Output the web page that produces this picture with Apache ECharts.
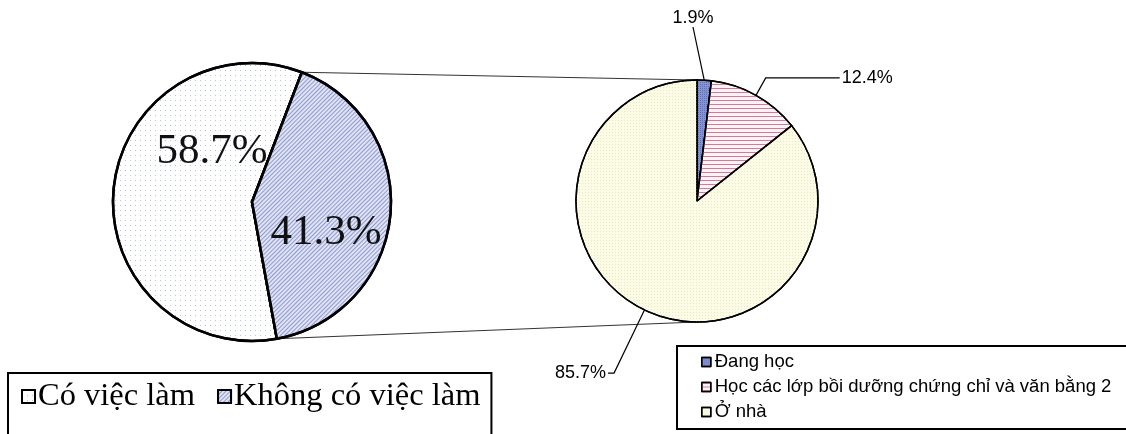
<!DOCTYPE html>
<html>
<head>
<meta charset="utf-8">
<script src="https://cdn.jsdelivr.net/npm/echarts@6/dist/echarts.min.js"></script>
<style>
html,body{margin:0;padding:0;background:#fff;}
#chart{width:1126px;height:434px;}
</style>
</head>
<body>
<div id="chart"></div>
<script>
// ---- data ----
const mainCategories = ['Có việc làm', 'Không có việc làm'];
const mainValues = [58.7, 41.3];
const subCategories = ['Đang học', 'Học các lớp bồi dưỡng chứng chỉ và văn bằng 2', 'Ở nhà'];
const subValues = [1.9, 12.4, 85.7];

// ---- layout ----
const L = { cx: 252, cy: 202, r: 139, start: -79.7 };
const R = { cx: 697, cy: 201, r: 121, start: 90 };

const serif = '"Liberation Serif", "Times New Roman", serif';
const sans = '"Liberation Sans", Arial, sans-serif';

const mainStyles = [
  { color: '#ffffff', decal: { symbol: 'rect', symbolSize: 1, dashArrayX: [1, 4], dashArrayY: [1, 4], color: '#b8c0ea' } },
  { color: '#e0e3f3', decal: { symbol: 'rect', symbolSize: 1, dashArrayX: [1, 0], dashArrayY: [1, 2], rotation: -Math.PI / 4, color: '#8f9ad0' } }
];
const subStyles = [
  { color: '#8393d4', decal: { symbol: 'rect', symbolSize: 1, dashArrayX: [1, 1], dashArrayY: [1, 1], color: '#6070bb' } },
  { color: '#fdf3f6', decal: { symbol: 'rect', symbolSize: 1, dashArrayX: [1, 0], dashArrayY: [1, 3], color: '#d47a98' } },
  { color: '#fbfbe6', decal: { symbol: 'rect', symbolSize: 1, dashArrayX: [1, 2], dashArrayY: [1, 2], color: '#eaeac4' } }
];

const mainLabelPos = [[212, 152], [326, 233]];
const subLabelLines = [
  { length: 0, length2: 0 },
  { length: 20, length2: 74 },
  { length: 70, length2: 6 }
];

function sum(a) { return a.reduce((s, v) => s + v, 0); }
function pt(c, deg) {
  const a = deg * Math.PI / 180;
  return [c.cx + c.r * Math.cos(a), c.cy - c.r * Math.sin(a)];
}
// boundaries of the "Không có việc làm" slice (clockwise from start)
const mainTotal = sum(mainValues);
const bStart = L.start;
const bEnd = L.start - 360 * mainValues[0] / mainTotal;
const pTop = pt(L, bEnd);
const pBot = pt(L, bStart);
const rTop = [R.cx, R.cy - R.r];
const rBot = [R.cx, R.cy + R.r];

const chart = echarts.init(document.getElementById('chart'), null, { renderer: 'canvas' });
chart.setOption({
  animation: false,
  backgroundColor: '#ffffff',
  legend: [
    {
      data: mainCategories,
      left: 8, top: 373,
      orient: 'horizontal',
      icon: 'rect',
      itemWidth: 13, itemHeight: 13,
      itemGap: 22,
      padding: [7, 11, 40, 13],
      borderColor: '#000', borderWidth: 2,
      itemStyle: { borderColor: '#000', borderWidth: 2 },
      textStyle: { fontFamily: serif, fontSize: 32.5, color: '#000', padding: [0, 0, 0, -2] },
      selectedMode: false
    },
    {
      data: subCategories,
      left: 677, top: 346,
      orient: 'vertical',
      icon: 'rect',
      itemWidth: 9, itemHeight: 9,
      itemGap: 5,
      padding: [6, 80, 7, 24],
      borderColor: '#000', borderWidth: 2,
      itemStyle: { borderColor: '#000', borderWidth: 1.5 },
      textStyle: { fontFamily: sans, fontSize: 18.5, color: '#000', lineHeight: 20, padding: [0, 0, 0, -1] },
      selectedMode: false
    }
  ],
  series: [
    {
      type: 'pie',
      center: [L.cx, L.cy],
      radius: L.r,
      startAngle: L.start,
      clockwise: true,
      avoidLabelOverlap: false,
      itemStyle: { borderColor: '#000', borderWidth: 2.5 },
      label: {
        show: true, position: 'inside',
        formatter: p => p.value.toFixed(1) + '%',
        fontFamily: serif, fontSize: 43, color: '#111'
      },
      labelLayout: p => ({ x: mainLabelPos[p.dataIndex][0], y: mainLabelPos[p.dataIndex][1], align: 'center', verticalAlign: 'middle' }),
      emphasis: { disabled: true },
      data: mainCategories.map((n, i) => ({ name: n, value: mainValues[i], itemStyle: mainStyles[i] }))
    },
    {
      type: 'pie',
      center: [R.cx, R.cy],
      radius: R.r,
      startAngle: R.start,
      clockwise: true,
      avoidLabelOverlap: false,
      itemStyle: { borderColor: '#000', borderWidth: 1.5 },
      label: {
        show: true, position: 'outside', alignTo: 'none',
        formatter: p => p.value.toFixed(1) + '%',
        fontFamily: sans, fontSize: 18, color: '#000', distanceToLabelLine: 2
      },
      labelLine: { show: true, smooth: false, lineStyle: { color: '#000', width: 1.2 } },
      labelLayout: p => p.dataIndex === 0 ? { x: 693, y: 18, align: 'center', verticalAlign: 'middle' } : {},
      emphasis: { disabled: true },
      data: subCategories.map((n, i) => ({
        name: n, value: subValues[i], itemStyle: subStyles[i],
        labelLine: subLabelLines[i]
      }))
    }
  ],
  graphic: [
    { type: 'line', shape: { x1: pTop[0], y1: pTop[1], x2: rTop[0], y2: rTop[1] }, style: { stroke: '#333', lineWidth: 1.2 }, z: -1 },
    { type: 'line', shape: { x1: pBot[0], y1: pBot[1], x2: rBot[0], y2: rBot[1] }, style: { stroke: '#333', lineWidth: 1.2 }, z: -1 }
  ]
});
</script>
</body>
</html>
